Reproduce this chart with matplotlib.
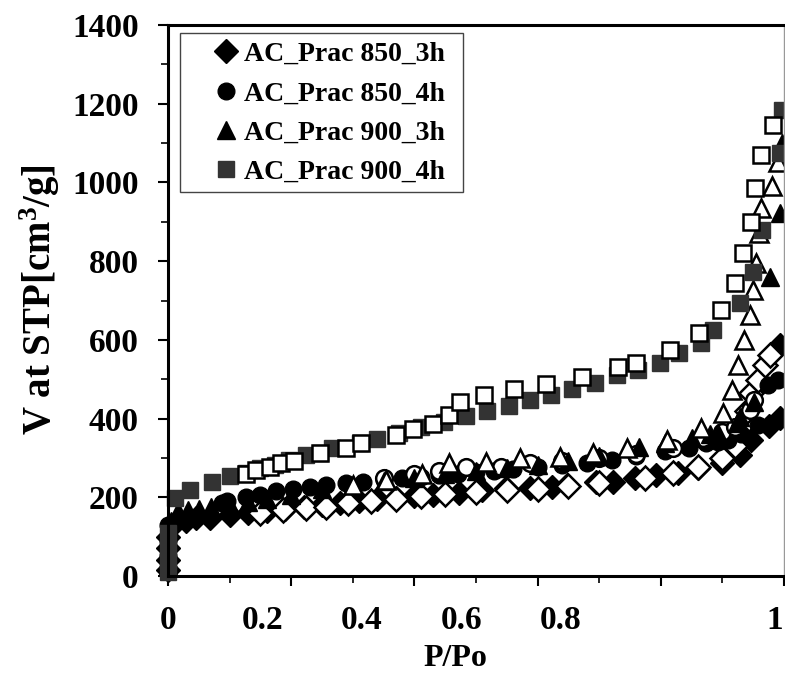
import matplotlib
matplotlib.use("Agg")
import matplotlib.pyplot as plt
import matplotlib.transforms as mtransforms
from matplotlib.patches import Rectangle
from matplotlib.ticker import MultipleLocator, NullFormatter

plt.rcParams["font.family"] = ["Liberation Serif", "DejaVu Serif"]
plt.rcParams["font.weight"] = "bold"
plt.rcParams["mathtext.fontset"] = "custom"
plt.rcParams["mathtext.rm"] = "Liberation Serif:bold"
plt.rcParams["mathtext.it"] = "Liberation Serif:bold"
plt.rcParams["mathtext.bf"] = "Liberation Serif:bold"

# --- AC_Prac 850_3h (diamonds) ---
d_ads_x = [0.0, 0.0, 0.0, 0.0, 0.011, 0.03, 0.046, 0.068, 0.10, 0.13, 0.16, 0.19, 0.22,
           0.25, 0.28, 0.31, 0.34, 0.37, 0.40, 0.43, 0.472, 0.51, 0.548, 0.588, 0.624,
           0.648, 0.694, 0.723, 0.758, 0.793, 0.828, 0.861, 0.899, 0.928, 0.947, 0.975,
           0.993, 0.993]
d_ads_y = [15, 40, 70, 100, 135, 140, 147, 147, 155, 160, 165, 170, 175, 180, 185, 190,
           195, 198, 202, 206, 210, 218, 223, 223, 227, 231, 240, 240, 248, 257, 261, 274,
           286, 307, 345, 380, 401, 587]
d_des_x = [0.15, 0.187, 0.224, 0.257, 0.292, 0.33, 0.37, 0.41, 0.45, 0.5, 0.55, 0.6, 0.65,
           0.7, 0.774, 0.82, 0.86, 0.9, 0.92, 0.94, 0.947, 0.958, 0.969, 0.977]
d_des_y = [159, 168, 172, 176, 185, 190, 196, 202, 208, 213, 218, 222, 228, 236, 248, 262,
           278, 300, 330, 420, 465, 498, 536, 561]

# --- AC_Prac 850_4h (circles) ---
c_ads_x = [0.0, 0.0, 0.0, 0.0, 0.087, 0.095, 0.127, 0.149, 0.176, 0.203, 0.23, 0.257,
           0.289, 0.316, 0.35, 0.38, 0.41, 0.44, 0.47, 0.5, 0.53, 0.56, 0.6, 0.64, 0.68,
           0.72, 0.76, 0.807, 0.845, 0.874, 0.893, 0.909, 0.93, 0.958, 0.974, 0.99]
c_ads_y = [20, 50, 90, 130, 186, 190, 200, 206, 215, 222, 227, 231, 236, 240, 245, 249,
           252, 256, 260, 263, 267, 271, 276, 281, 288, 296, 305, 318, 325, 337, 341, 345,
           360, 384, 485, 498]
c_des_x = [0.35, 0.4, 0.44, 0.483, 0.54, 0.588, 0.64, 0.7, 0.76, 0.82, 0.869, 0.9, 0.92,
           0.944, 0.952]
c_des_y = [248, 258, 266, 278, 278, 286, 292, 300, 310, 325, 350, 365, 379, 422, 447]

# --- AC_Prac 900_3h (triangles) ---
t_ads_x = [0.0, 0.0, 0.0, 0.005, 0.017, 0.033, 0.05, 0.07, 0.10, 0.13, 0.16, 0.20, 0.25,
           0.30, 0.35, 0.40, 0.45, 0.50, 0.55, 0.60, 0.65, 0.70, 0.764, 0.807, 0.85, 0.88,
           0.893, 0.923, 0.928, 0.952, 0.977, 0.993, 0.997]
t_ads_y = [25, 60, 100, 140, 165, 168, 170, 175, 180, 188, 196, 206, 220, 232, 242, 250,
           258, 266, 274, 282, 292, 305, 329, 337, 350, 362, 363, 388, 405, 443, 760, 922,
           1100]
t_des_x = [0.30, 0.354, 0.413, 0.456, 0.516, 0.572, 0.637, 0.69, 0.745, 0.81, 0.866, 0.901,
           0.915, 0.926, 0.935, 0.944, 0.95, 0.955, 0.96, 0.962, 0.98, 0.99]
t_des_y = [232, 244, 258, 286, 290, 299, 303, 312, 326, 345, 375, 413, 473, 536, 600, 663,
           727, 795, 871, 935, 990, 1053]

# --- AC_Prac 900_4h (squares) ---
s_ads_x = [0.0, 0.0, 0.0, 0.0, 0.011, 0.036, 0.071, 0.10, 0.127, 0.149, 0.173, 0.197,
           0.224, 0.246, 0.267, 0.311, 0.340, 0.375, 0.41, 0.448, 0.483, 0.518, 0.553,
           0.588, 0.622, 0.656, 0.693, 0.729, 0.763, 0.798, 0.83, 0.865, 0.885, 0.928,
           0.95, 0.964, 0.993, 0.996]
s_ads_y = [10, 40, 70, 110, 198, 218, 240, 254, 262, 274, 282, 295, 307, 312, 325, 338,
           347, 363, 378, 392, 406, 419, 432, 447, 460, 474, 491, 511, 523, 542, 566, 591,
           625, 693, 773, 879, 1074, 1184]
s_des_x = [0.126, 0.143, 0.165, 0.184, 0.205, 0.246, 0.289, 0.313, 0.37, 0.398, 0.43,
           0.456, 0.474, 0.513, 0.561, 0.614, 0.672, 0.731, 0.76, 0.815, 0.862, 0.897,
           0.92, 0.934, 0.946, 0.953, 0.963, 0.982]
s_des_y = [259, 269, 278, 288, 293, 312, 324, 337, 358, 373, 386, 409, 443, 460, 475, 488,
           506, 532, 542, 574, 617, 676, 744, 820, 900, 985, 1070, 1146]

labels = ["AC_Prac 850_3h", "AC_Prac 850_4h", "AC_Prac 900_3h", "AC_Prac 900_4h"]
x_tick_text = ["0", "0.2", "0.4", "0.6", "0.8", "1"]
x_tick_text_pos = [0.0, 0.153, 0.314, 0.476, 0.638, 0.985]

series = [
    (d_ads_x, d_ads_y, d_des_x, d_des_y, "D", 12, "black"),
    (c_ads_x, c_ads_y, c_des_x, c_des_y, "o", 12, "black"),
    (t_ads_x, t_ads_y, t_des_x, t_des_y, "^", 13, "black"),
    (s_ads_x, s_ads_y, s_des_x, s_des_y, "s", 11.5, "#333333"),
]

fig = plt.figure(figsize=(7.85, 6.77), dpi=100)
ax = fig.add_axes([168 / 785, 101 / 677, 616 / 785, 551 / 677])

handles = []
for (ax_x, ax_y, de_x, de_y, m, ms, col), lab in zip(series, labels):
    h, = ax.plot(ax_x, ax_y, ls="none", marker=m, ms=ms, mfc=col, mec=col,
                 clip_on=False, label=lab)
    ax.plot(de_x, de_y, ls="none", marker=m, ms=ms, mfc="white", mec="black",
            mew=1.8, clip_on=False)
    handles.append(h)

ax.set_xlim(0, 1)
ax.set_ylim(0, 1400)

for side in ["left", "bottom", "top"]:
    ax.spines[side].set_linewidth(2.2)
    ax.spines[side].set_color("black")
ax.spines["right"].set_linewidth(1)
ax.spines["right"].set_color("#999999")

ax.xaxis.set_major_locator(MultipleLocator(0.2))
ax.xaxis.set_minor_locator(MultipleLocator(0.1))
ax.xaxis.set_major_formatter(NullFormatter())
ax.yaxis.set_major_locator(MultipleLocator(200))
ax.yaxis.set_minor_locator(MultipleLocator(100))
ax.tick_params(axis="both", which="major", direction="out", length=7, width=1.5,
               color="black")
ax.tick_params(axis="both", which="minor", direction="out", length=5, width=1.2,
               color="black")
ax.tick_params(axis="y", which="major", labelsize=24, pad=14)
ax.tick_params(top=False, right=False, which="both")
for t in ax.get_yticklabels():
    t.set_fontweight("bold")

# x tick labels sit where the original drew them, not under the tick marks
trans = mtransforms.blended_transform_factory(ax.transData, ax.transAxes)
for pos, txt in zip(x_tick_text_pos, x_tick_text):
    ax.text(pos, -0.08, txt, transform=trans, ha="center", va="center",
            fontsize=24, fontweight="bold", clip_on=False)

fig.text(455 / 785, 1 - 658 / 677, "P/Po", ha="center", va="center",
         fontsize=23, fontweight="bold")
fig.text(40 / 785, 1 - 300 / 677, r"V at STP[cm$^{3}$/g]", ha="center", va="center",
         rotation=90, fontsize=28, fontweight="bold")

# legend frame drawn separately so the markers can sit inset like the original
ax.add_patch(Rectangle((0.0195, 0.697), 0.4595, 0.2885, transform=ax.transAxes,
                       facecolor="white", edgecolor="#444444", lw=1.0, zorder=4))
leg = ax.legend(handles=handles, loc="upper left", bbox_to_anchor=(0.071, 0.97),
                borderaxespad=0, borderpad=0, frameon=False, handlelength=1.0,
                handletextpad=0.15, labelspacing=0.5,
                prop={"size": 20, "weight": "bold"})
leg.set_zorder(5)

fig.savefig("out.png", dpi=100)
